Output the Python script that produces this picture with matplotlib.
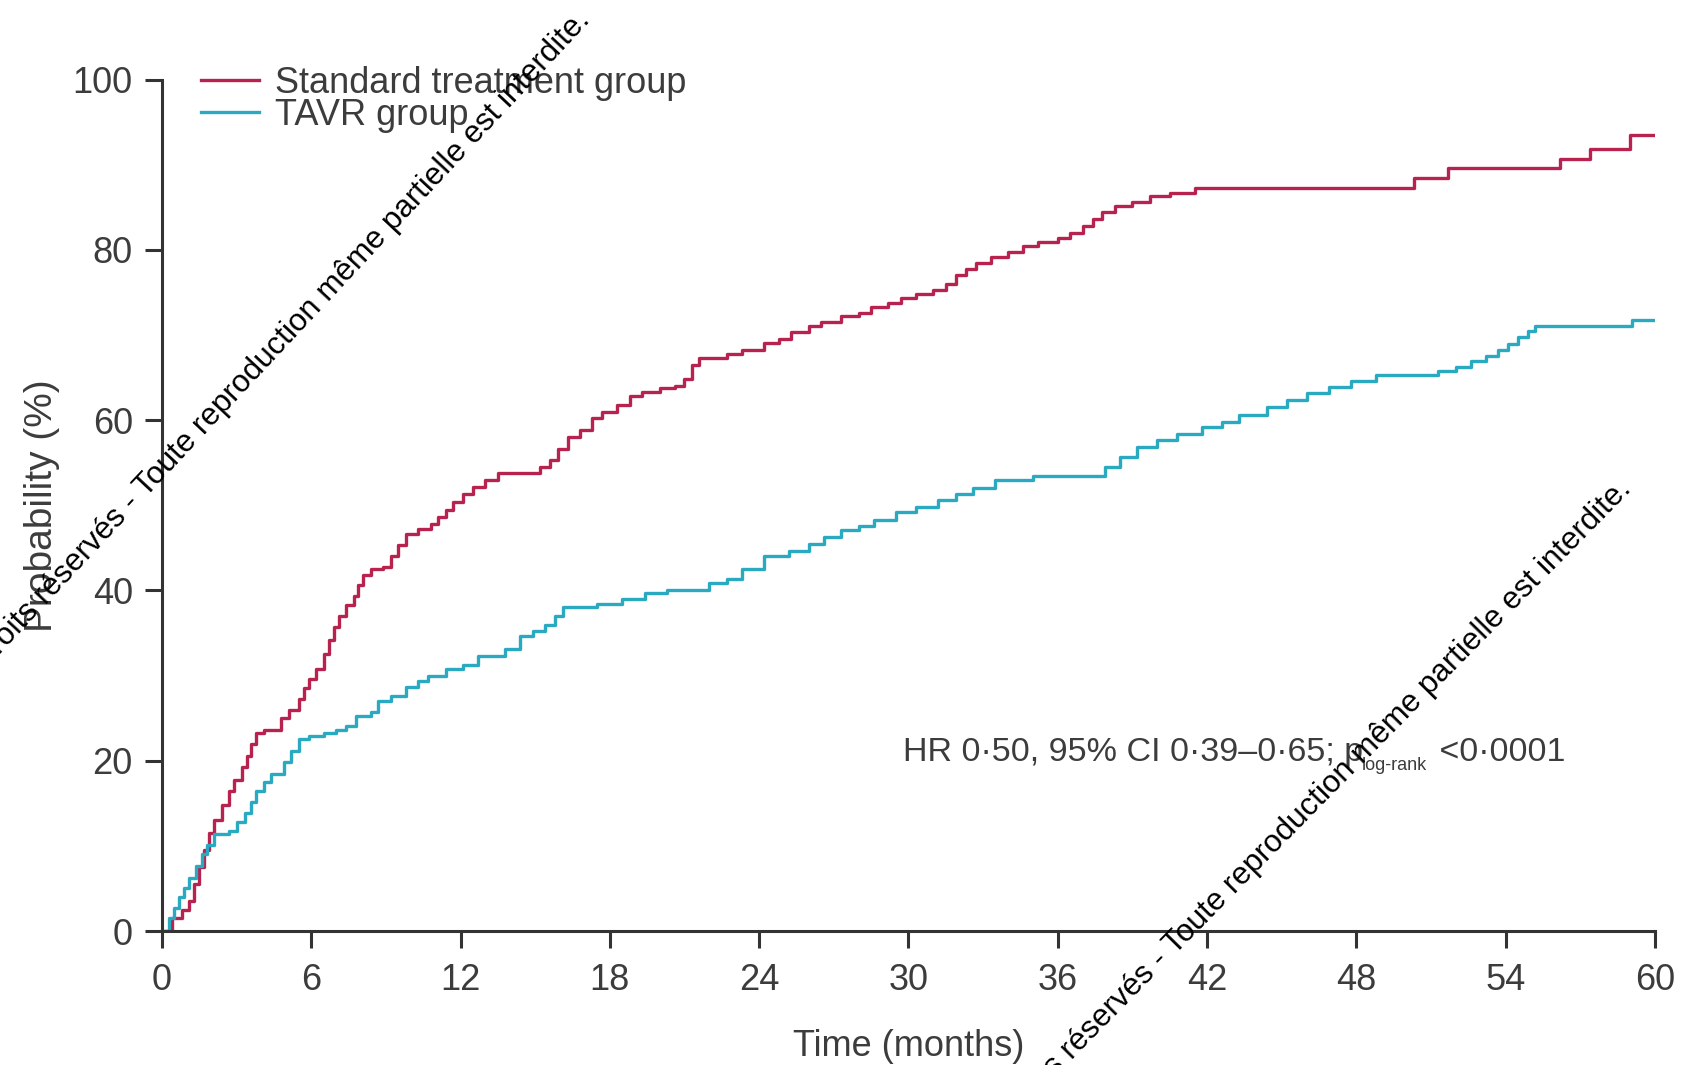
import matplotlib
matplotlib.use("Agg")
import matplotlib.pyplot as plt

# ---------------- data ----------------
std_time = [0, 0.4, 0.8, 1.1, 1.3, 1.5, 1.7, 1.9, 2.1, 2.4, 2.7, 2.9, 3.2, 3.4, 3.6, 3.8,
            4.1, 4.8, 5.1, 5.5, 5.7, 5.9, 6.2, 6.5, 6.7, 6.9, 7.1, 7.4, 7.7, 7.9, 8.1,
            8.4, 8.9, 9.2, 9.5, 9.8, 10.3, 10.8, 11.1, 11.4, 11.7, 12.1, 12.5, 13.0, 13.5,
            15.2, 15.6, 15.9, 16.3, 16.8, 17.3, 17.7, 18.3, 18.8, 19.3, 20.0, 20.6, 21.0,
            21.3, 21.6, 22.7, 23.3, 24.2, 24.8, 25.3, 26.0, 26.5, 27.3, 28.0, 28.5, 29.2,
            29.7, 30.3, 31.0, 31.5, 31.9, 32.3, 32.7, 33.3, 34.0, 34.6, 35.2, 36.0, 36.5,
            37.0, 37.4, 37.8, 38.3, 39.0, 39.7, 40.5, 41.5, 50.3, 51.7, 56.2, 57.4, 59.0, 60.0]
std_prob = [0, 1.5, 2.5, 3.5, 5.5, 7.5, 9.5, 11.5, 13.0, 14.8, 16.5, 17.7, 19.3, 20.5, 22.0, 23.2,
            23.6, 25.0, 26.0, 27.2, 28.5, 29.6, 30.8, 32.5, 34.2, 35.7, 37.0, 38.3, 39.4, 40.6, 41.8,
            42.5, 42.8, 44.0, 45.3, 46.6, 47.2, 47.8, 48.6, 49.4, 50.4, 51.3, 52.2, 53.0, 53.8,
            54.5, 55.3, 56.6, 58.0, 58.8, 60.2, 61.0, 61.8, 62.8, 63.3, 63.8, 64.0, 64.8,
            66.5, 67.3, 67.8, 68.2, 69.1, 69.5, 70.3, 71.0, 71.5, 72.2, 72.6, 73.3, 73.8,
            74.3, 74.8, 75.3, 76.0, 77.0, 77.8, 78.5, 79.2, 79.8, 80.5, 80.9, 81.4, 82.0,
            82.8, 83.6, 84.5, 85.2, 85.6, 86.3, 86.7, 87.3, 88.4, 89.6, 90.7, 91.9, 93.5, 93.5]

tavr_time = [0, 0.3, 0.5, 0.7, 0.9, 1.1, 1.35, 1.6, 1.8, 2.1, 2.7, 3.0, 3.35, 3.6, 3.8, 4.1,
             4.4, 4.9, 5.2, 5.5, 5.9, 6.5, 7.0, 7.4, 7.8, 8.4, 8.7, 9.2, 9.8, 10.3, 10.7,
             11.4, 12.1, 12.7, 13.8, 14.4, 14.9, 15.4, 15.8, 16.1, 17.5, 18.5, 19.4, 20.3,
             22.0, 22.7, 23.3, 24.2, 25.2, 26.0, 26.6, 27.3, 28.0, 28.6, 29.5, 30.3, 31.2,
             31.9, 32.6, 33.5, 35.0, 37.9, 38.5, 39.2, 40.0, 40.8, 41.8, 42.6, 43.3, 44.4,
             45.2, 46.0, 46.9, 47.8, 48.8, 51.3, 52.0, 52.6, 53.2, 53.7, 54.1, 54.5, 54.9,
             55.2, 59.1, 60.0]
tavr_prob = [0, 1.5, 2.7, 4.0, 5.1, 6.2, 7.6, 9.0, 10.1, 11.4, 11.8, 12.8, 13.9, 15.2, 16.5, 17.5,
             18.5, 19.8, 21.2, 22.5, 22.9, 23.2, 23.6, 24.1, 25.3, 25.7, 27.0, 27.6, 28.7, 29.4, 30.0,
             30.8, 31.2, 32.3, 33.1, 34.6, 35.2, 35.9, 37.0, 38.0, 38.4, 39.0, 39.7, 40.1,
             40.9, 41.4, 42.5, 44.0, 44.6, 45.5, 46.3, 47.1, 47.6, 48.3, 49.2, 49.8, 50.6,
             51.3, 52.0, 53.0, 53.4, 54.5, 55.7, 56.9, 57.7, 58.4, 59.2, 59.8, 60.6, 61.6,
             62.4, 63.2, 63.9, 64.6, 65.3, 65.8, 66.3, 66.9, 67.5, 68.2, 69.0, 69.8, 70.5,
             71.0, 71.8, 71.8]

series_labels = ["Standard treatment group", "TAVR group"]
x_ticks = [0, 6, 12, 18, 24, 30, 36, 42, 48, 54, 60]
y_ticks = [0, 20, 40, 60, 80, 100]
x_label = "Time (months)"
y_label = "Probability (%)"
stat_main = "HR 0·50, 95% CI 0·39–0·65; p"
stat_sub = "log-rank"
stat_end = " <0·0001"
watermark = "Tous droits réservés - Toute reproduction même partielle est interdite."

# ---------------- style ----------------
plt.rcParams["font.family"] = ["Liberation Sans", "DejaVu Sans"]

RED = "#B8224E"
TEAL = "#2AAAC0"
AX = "#333333"
TXT = "#3c3c3c"
FS = 26

fig = plt.figure(figsize=(17.08, 10.65), dpi=100)
ax = fig.add_axes([0.0948, 0.1258, 0.8741, 0.7995])

ax.plot(std_time, std_prob, drawstyle="steps-post", color=RED, lw=2.4,
        label=series_labels[0])
ax.plot(tavr_time, tavr_prob, drawstyle="steps-post", color=TEAL, lw=2.4,
        label=series_labels[1])

ax.set_xlim(0, 60)
ax.set_ylim(0, 100)
ax.set_xticks(x_ticks)
ax.set_yticks(y_ticks)
for s in ["top", "right"]:
    ax.spines[s].set_visible(False)
for s in ["left", "bottom"]:
    ax.spines[s].set_linewidth(2.2)
    ax.spines[s].set_color(AX)
ax.tick_params(axis="both", direction="out", length=12, width=2.2, color=AX,
               labelsize=FS, labelcolor=TXT)
ax.tick_params(axis="x", pad=11)
ax.tick_params(axis="y", pad=9)

ax.set_xlabel(x_label, fontsize=FS, color=TXT, labelpad=22)
ax.set_ylabel(y_label, fontsize=28, color=TXT, labelpad=9)

leg = ax.legend(loc="upper left", bbox_to_anchor=(0.026, 1.016), frameon=False,
                fontsize=FS, handlelength=1.6, handletextpad=0.45,
                labelspacing=-0.08, borderpad=0, borderaxespad=0)
for t in leg.get_texts():
    t.set_color(TXT)

# statistics annotation
t1 = ax.text(29.8, 20.0, stat_main, fontsize=24.5, color=TXT, va="baseline", ha="left")
t2 = ax.annotate(stat_sub, xy=(1, 20.0), xycoords=(t1, "data"), xytext=(-1, -7),
                 textcoords="offset points", fontsize=13, color=TXT, va="baseline")
t3 = ax.annotate(stat_end, xy=(1, 20.0), xycoords=(t2, "data"), xytext=(2, 0),
                 textcoords="offset points", fontsize=24.5, color=TXT, va="baseline")

# diagonal watermark lines (cut by the picture edges, as in the reference)
fig.text(0.346, 0.981, watermark, fontsize=22.5, color="black", rotation=47,
         rotation_mode="anchor", ha="right", va="baseline")
fig.text(0.9555, 0.540, watermark, fontsize=22.5, color="black", rotation=45.5,
         rotation_mode="anchor", ha="right", va="baseline")

fig.savefig("out.png", dpi=100)
